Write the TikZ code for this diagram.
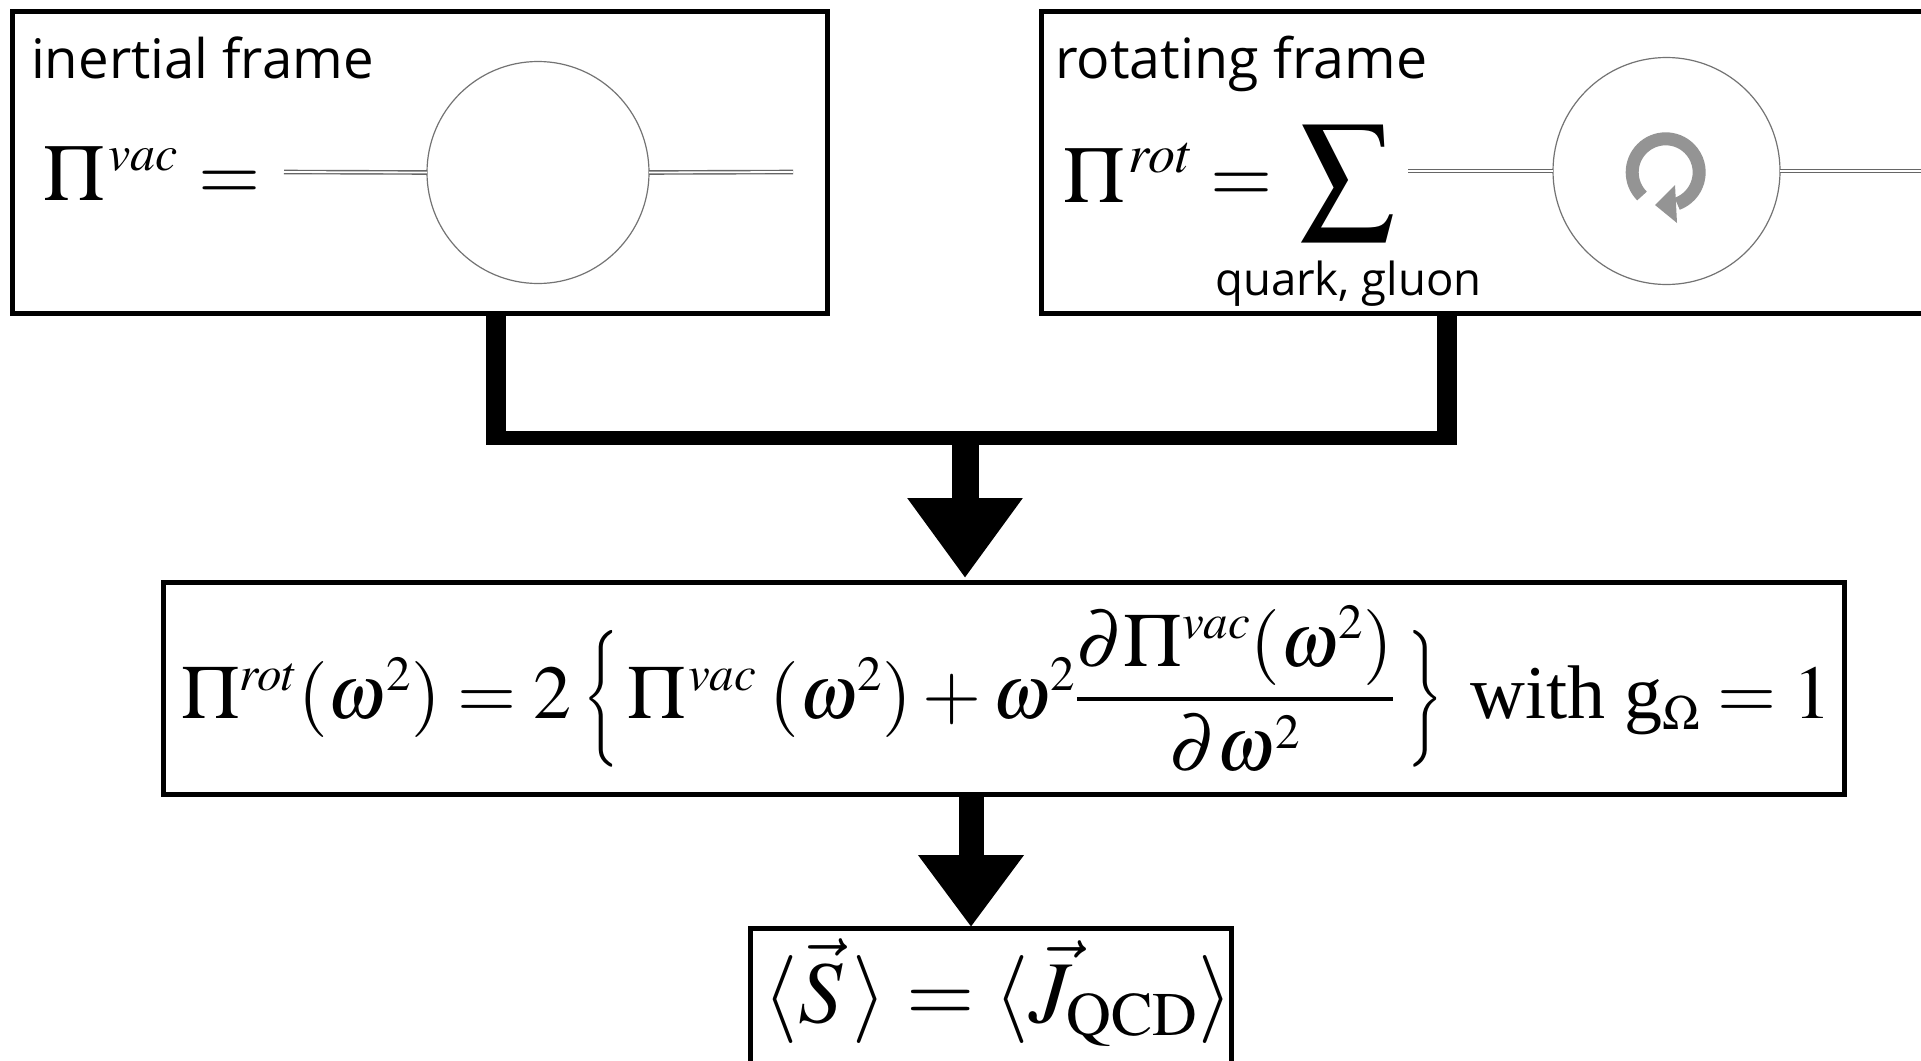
\documentclass[tikz,border=0pt]{standalone}
\usepackage{mathptmx}
\usepackage{fontspec}
\setmainfont{Liberation Serif}
\newfontfamily\labfont{Open Sans}
\usetikzlibrary{arrows.meta,calc}
\DeclareMathSizes{80}{80}{50}{40}
\DeclareMathSizes{76}{76}{49}{37}
\DeclareMathSizes{88}{88}{62}{44}
\newcommand{\bigsz}{\fontsize{80}{90}\selectfont}
\newcommand{\midsz}{\fontsize{76}{86}\selectfont}
\newcommand{\largesz}{\fontsize{88}{98}\selectfont}
\newcommand{\bracestrut}{\vcenter{\hbox{\rule{0pt}{122pt}}}}
\newcommand{\anglestrut}{\vcenter{\hbox{\rule{0pt}{80pt}}}}
\newcommand{\lbr}{\scalebox{.7}[1]{$\left\{\bracestrut\right.$}}
\newcommand{\rbr}{\scalebox{.7}[1]{$\left.\bracestrut\right\}$}}
\newcommand{\lang}{\hbox{$\left\langle\anglestrut\right.$}}
\newcommand{\rang}{\hbox{$\left.\anglestrut\right\rangle$}}
\tikzset{
  x=1pt,y=-1pt,
  framebox/.style={draw=black,line width=5pt,fill=white,rectangle,inner sep=0pt,outer sep=0pt,anchor=north west},
  loopcircle/.style={draw=black!55,line width=1.2pt,circle,inner sep=0pt,outer sep=0pt,fill=white},
  prop/.style={draw=black!60,line width=1.4pt,double=white,double distance=1.8pt},
  lab/.style={inner sep=0pt,anchor=base west,font=\labfont\fontsize{54.5}{62}\selectfont},
  lab2/.style={inner sep=0pt,anchor=base west,font=\labfont\fontsize{45.5}{52}\selectfont},
  eq/.style={inner sep=0pt,anchor=base west,font=\bigsz},
  feed/.style={line width=20pt,line cap=butt},
  topar/.style={-{Triangle[width=110pt,length=80pt]},shorten >=4pt},
  botar/.style={-{Triangle[width=101pt,length=72pt]},shorten >=1pt},
}
\begin{document}
\begin{tikzpicture}
\useasboundingbox (0,0) rectangle (1921,1060);
\clip (0,0) rectangle (1921,1060);
% boxes
\node[framebox,minimum width=815pt,minimum height=302pt] (b1) at (12,11) {};
\node[framebox,minimum width=1000pt,minimum height=302pt] (b2) at (1041,11) {};
\node[framebox,minimum width=1681pt,minimum height=212pt] (b3) at (163,582) {};
\node[framebox,minimum width=481pt,minimum height=200pt] (b4) at (750,928) {};
% inertial
\node[lab] (t1) at (31,78) {inertial frame};
\node[eq] (e1) at (43,200) {$\Pi^{\kern4pt vac}\kern2pt=$};
\node[loopcircle,minimum size=222pt] (c1) at (538,172.5) {};
\coordinate (l1) at (284,172);
\coordinate (r1) at (793,172);
\draw[prop] (l1) -- (c1.west);
\draw[prop] (c1.east) -- (r1);
% rotating
\node[lab,font=\labfont\fontsize{55.5}{62}\selectfont] (t2) at (1055,78) {rotating frame};
\node[eq] (e2) at (1063,202) {$\Pi^{\kern4pt\scalebox{1.08}{$\scriptstyle rot$}}\kern-1pt=$};
\node[inner sep=0pt,anchor=center] (sum) at (1348,183) {\fontsize{135}{140}\selectfont$\sum$};
\node[lab2] (qg) at (1215,295) {quark, gluon};
\node[loopcircle,minimum size=227pt] (c2) at (1666.5,171) {};
\coordinate (l2) at (1408,171);
\coordinate (r2) at (1921,171);
\draw[prop] (l2) -- (c2.west);
\draw[prop] (c2.east) -- (r2);
\draw[line width=13pt,color=black!42] (1642,196) arc[start angle=135,end angle=430,radius=33.5];
\fill[black!42] (1655,205) -- (1675,185) -- (1677,223) -- cycle;
% equation
\node[eq,font=\midsz] (e3) at (181,718) {$\Pi^{rot}(\omega^2)=2\kern12pt\lbr\kern8pt\Pi^{\kern2pt vac}\kern13pt(\omega^2)+\omega^2\displaystyle\frac{\partial\Pi^{vac}(\omega^2)}{\partial\omega^2}\kern12pt\rbr$\kern28pt with g$_\Omega=1$};
\node[eq,font=\largesz] (e4) at (763,1022) {$\lang\vec{S}\kern8pt\rang=\lang\vec{J}_{\mathrm{QCD}}\rang$};
% connectors
\coordinate (jl) at (496,438);
\coordinate (jr) at (1447,438);
\coordinate (m1) at (965,438);
\coordinate (m2) at (971,794);
\draw[feed] (jl |- b1.south) -- ($(jl)+(0,7)$);
\draw[feed] (jr |- b2.south) -- ($(jr)+(0,7)$);
\draw[line width=14pt] ($(jl)+(-10,0)$) -- ($(jr)+(10,0)$);
\draw[line width=27pt,topar] (m1) -- (m1 |- b3.north);
\draw[line width=25pt,botar] (m2 |- b3.south) -- (m2 |- b4.north);
\end{tikzpicture}
\end{document}
